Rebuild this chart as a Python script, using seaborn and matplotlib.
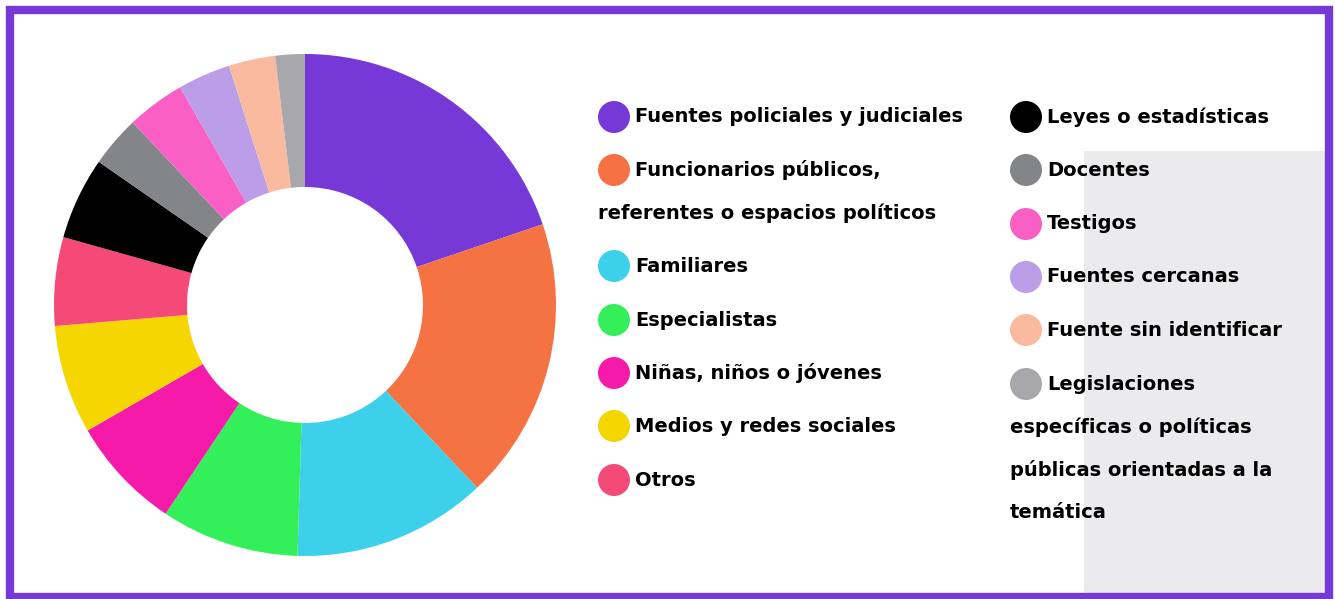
import matplotlib.pyplot as plt
import seaborn as sns
from matplotlib.patches import Rectangle, Ellipse

labels = [
    "Fuentes policiales y judiciales",
    "Funcionarios públicos,\nreferentes o espacios políticos",
    "Familiares",
    "Especialistas",
    "Niñas, niños o jóvenes",
    "Medios y redes sociales",
    "Otros",
    "Leyes o estadísticas",
    "Docentes",
    "Testigos",
    "Fuentes cercanas",
    "Fuente sin identificar",
    "Legislaciones\nespecíficas o políticas\npúblicas orientadas a la\ntemática",
]
values = [19.8, 18.2, 12.5, 8.9, 7.3, 7.0, 5.7, 5.3, 3.3, 3.75, 3.4, 3.0, 1.9]
colors = ["#7638D6", "#F57242", "#3CD0EA", "#33F05A", "#F51AAA", "#F5D600",
          "#F54A78", "#000000", "#848589", "#F95FC5", "#BB9DE8", "#F9BAA0", "#A8A8AC"]

sns.set_theme(style="white")
plt.rcParams['font.family'] = ['DejaVu Sans']

W, H = 1335, 599
fig = plt.figure(figsize=(W / 100, H / 100), dpi=100)
fig.patch.set_facecolor("white")

# light gray panel in the lower right and the purple frame
fig.patches.append(Rectangle((1084 / W, 0), (1328 - 1084) / W, (H - 151) / H,
                             transform=fig.transFigure, facecolor="#EBEBEE",
                             edgecolor="none", zorder=0))
fig.patches.append(Rectangle((10 / W, 2 / H), (W - 16) / W, (H - 12) / H,
                             transform=fig.transFigure, facecolor="none",
                             edgecolor="#7638D6", linewidth=6, zorder=5))

# donut
cx, cy, R = 305, H - 305, 251
ax = fig.add_axes([(cx - R) / W, (cy - R) / H, 2 * R / W, 2 * R / H])
ax.pie(values, colors=colors, startangle=90, counterclock=False, radius=1,
       wedgeprops=dict(width=1 - 118 / 251, linewidth=0))
ax.set_xlim(-1, 1)
ax.set_ylim(-1, 1)
ax.set_aspect("equal")
ax.axis("off")

# legend drawn by hand
left_rows = [117, 170, 266, 320, 373, 426, 480]
right_rows = [117, 170, 224, 277, 330, 384]
cols = [(598, left_rows, range(0, 7)), (1010, right_rows, range(7, 13))]
line_gap = 43
fs = 14
for x0, rows, idx in cols:
    for y, i in zip(rows, idx):
        fig.patches.append(Ellipse(((x0 + 16) / W, (H - y) / H), 32 / W, 32 / H,
                                   transform=fig.transFigure, facecolor=colors[i],
                                   edgecolor="none", zorder=3))
        lines = labels[i].split("\n")
        fig.text((x0 + 37) / W, (H - y) / H, lines[0], fontsize=fs,
                 fontweight="bold", va="center", ha="left", color="black")
        for k, ln in enumerate(lines[1:], start=1):
            fig.text(x0 / W, (H - y - k * line_gap) / H, ln, fontsize=fs,
                     fontweight="bold", va="center", ha="left", color="black")

fig.savefig("out.png", dpi=100)
